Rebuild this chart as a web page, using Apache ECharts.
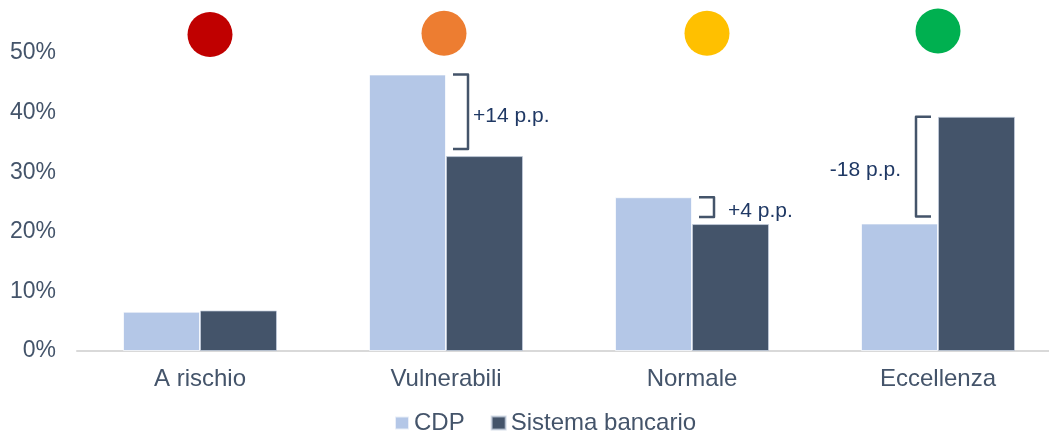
<!DOCTYPE html>
<html>
<head>
<meta charset="utf-8">
<script src="https://cdn.jsdelivr.net/npm/echarts@6/dist/echarts.min.js"></script>
<style>
  html, body { margin: 0; padding: 0; background: #ffffff; overflow: hidden; }
  /* plot area runs slightly past the right edge of the page */
  #chart { width: 1061px; height: 432px; }
</style>
</head>
<body>
<div id="chart"></div>
<script>
// Rating classes and share of counterparties (%)
const categories = ['A rischio', 'Vulnerabili', 'Normale', 'Eccellenza'];
const cdpShare = [6.6, 46.4, 25.8, 21.4];
const bankShare = [6.8, 32.7, 21.3, 39.3];

// Gap annotations between CDP and the banking system
const gapCategoryIndex = [1, 2, 3];
const gapLabels = ['+14 p.p.', '+4 p.p.', '-18 p.p.'];
const gapTextSpacing = [5, 14, 15];

// Traffic-light markers above each class
const statusColors = ['#c00000', '#ed7d31', '#ffc000', '#00b050'];
const statusLevel = [53.1, 53.3, 53.3, 53.7];
const statusShift = [10, -2, 15, 0];

const FONT = 'Arial, "Liberation Sans", sans-serif';
const TEXT_GREY = '#44546a';

const chart = echarts.init(document.getElementById('chart'), null, { renderer: 'canvas' });

const bracketData = gapCategoryIndex.map(function (ci, k) {
  const a = cdpShare[ci], b = bankShare[ci];
  return [ci, Math.max(a, b), Math.min(a, b), a >= b ? 1 : -1, k];
});

function renderBracket(params, api) {
  const ci = api.value(0);
  const hi = api.value(1);
  const lo = api.value(2);
  const dir = api.value(3);
  const k = api.value(4);
  const pTop = api.coord([ci, hi]);
  const pBot = api.coord([ci, lo]);
  const cx = pTop[0];
  const y1 = pTop[1];
  const y2 = pBot[1] - 7;
  const xIn = cx + dir * 7;
  const xOut = cx + dir * 22;
  return {
    type: 'group',
    children: [
      {
        type: 'polyline',
        shape: { points: [[xIn, y1], [xOut, y1], [xOut, y2], [xIn, y2]] },
        style: { stroke: '#44546a', lineWidth: 2.5, fill: null, lineJoin: 'round' }
      },
      {
        type: 'text',
        x: xOut + dir * gapTextSpacing[k],
        y: (y1 + y2) / 2 + 4,
        style: {
          text: gapLabels[k],
          fontSize: 21,
          fontFamily: FONT,
          fill: '#1f3864',
          align: dir > 0 ? 'left' : 'right',
          verticalAlign: 'middle'
        }
      }
    ]
  };
}

const option = {
  animation: false,
  backgroundColor: '#ffffff',
  textStyle: { fontFamily: FONT },
  grid: { left: 77, top: 53, right: 0, bottom: 81, containLabel: false },
  legend: {
    data: ['CDP', 'Sistema bancario'],
    left: 389,
    top: 406,
    icon: 'rect',
    itemWidth: 14,
    itemHeight: 13,
    itemGap: 26,
    textStyle: { fontSize: 24, color: TEXT_GREY, fontFamily: FONT }
  },
  xAxis: {
    type: 'category',
    data: categories,
    axisLine: { show: true, lineStyle: { color: '#d9d9d9', width: 2 } },
    axisTick: { show: false },
    axisLabel: { fontSize: 24, color: TEXT_GREY, margin: 16, fontFamily: FONT }
  },
  yAxis: {
    type: 'value',
    min: 0,
    max: 50,
    interval: 10,
    axisLine: { show: false },
    axisTick: { show: false },
    splitLine: { show: false },
    axisLabel: { formatter: '{value}%', fontSize: 23, color: TEXT_GREY, margin: 21, fontFamily: FONT }
  },
  series: [
    {
      name: 'CDP',
      type: 'bar',
      data: cdpShare,
      barWidth: 77,
      barGap: '0%',
      itemStyle: { color: '#b4c7e7', borderColor: 'rgba(255,255,255,0.7)', borderWidth: 1 }
    },
    {
      name: 'Sistema bancario',
      type: 'bar',
      data: bankShare,
      barWidth: 77,
      barGap: '0%',
      itemStyle: { color: '#44546a', borderColor: 'rgba(200,210,225,0.7)', borderWidth: 1 }
    },
    {
      type: 'scatter',
      clip: false,
      silent: true,
      symbol: 'circle',
      symbolSize: 45,
      data: statusLevel.map(function (v, i) {
        return {
          value: [i, v],
          symbolOffset: [statusShift[i], 0],
          itemStyle: { color: statusColors[i], opacity: 1 }
        };
      }),
      z: 5
    },
    {
      type: 'custom',
      silent: true,
      clip: false,
      renderItem: renderBracket,
      data: bracketData,
      encode: { x: 0, y: [1, 2] },
      z: 6
    }
  ]
};

chart.setOption(option);
</script>
</body>
</html>
